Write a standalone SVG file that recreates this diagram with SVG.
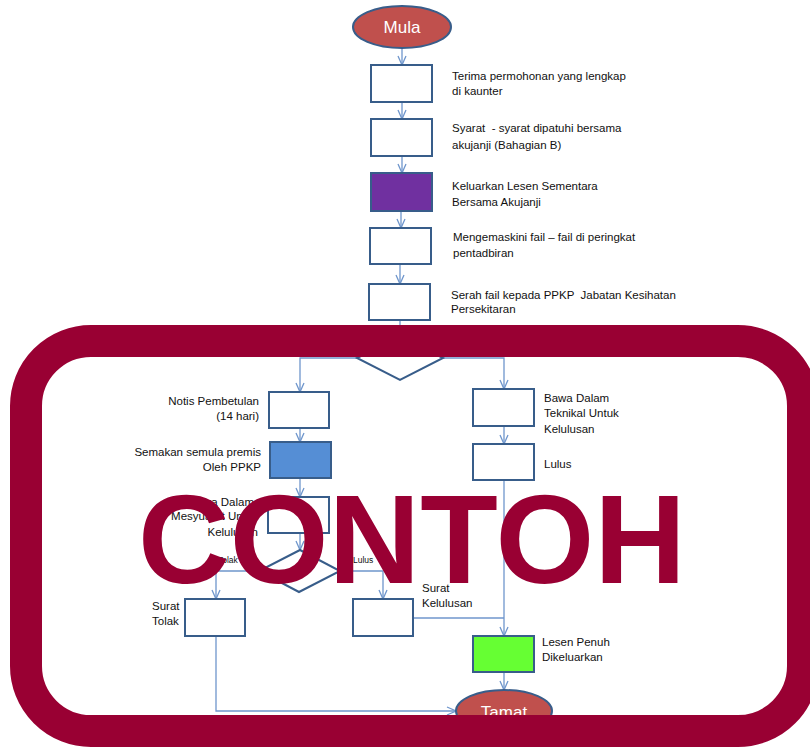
<svg xmlns="http://www.w3.org/2000/svg" width="810" height="747" viewBox="0 0 810 747">
<defs>
<style>
.box{fill:#fff;stroke:#385d8a;stroke-width:2}
.conn{fill:none;stroke:#6f96cc;stroke-width:1.3}
.dia{fill:none;stroke:#385d8a;stroke-width:2}
.t{font-family:"Liberation Sans",Arial,sans-serif;font-size:11.5px;fill:#111}
.s{font-family:"Liberation Sans",Arial,sans-serif;font-size:8.5px;fill:#111}
.term{fill:#c0504d;stroke:#385d8a;stroke-width:2}
.tt{font-family:"Liberation Sans",Arial,sans-serif;font-size:17px;fill:#fff;text-anchor:middle}
.r{text-anchor:end}
</style>
<marker id="arr" viewBox="0 0 10 10" refX="10" refY="5" markerWidth="10" markerHeight="10" markerUnits="userSpaceOnUse" orient="auto">
<path d="M1,1 L10,5 L1,9" fill="none" stroke="#6f96cc" stroke-width="1.3"/>
</marker>
</defs>
<rect width="810" height="747" fill="#fff"/>

<g id="connectors">
<path class="conn" d="M402,48 V65" marker-end="url(#arr)"/>
<path class="conn" d="M402,102 V119" marker-end="url(#arr)"/>
<path class="conn" d="M402,156 V173" marker-end="url(#arr)"/>
<path class="conn" d="M401,211 V228" marker-end="url(#arr)"/>
<path class="conn" d="M400,264 V284" marker-end="url(#arr)"/>
<path class="conn" d="M400,320 V336"/>
<path class="conn" d="M357,358 H300 V392" marker-end="url(#arr)"/>
<path class="conn" d="M443,358 H504 V389" marker-end="url(#arr)"/>
<path class="conn" d="M300,428 V442" marker-end="url(#arr)"/>
<path class="conn" d="M300,478 V497" marker-end="url(#arr)"/>
<path class="conn" d="M300,533 V550" marker-end="url(#arr)"/>
<path class="conn" d="M259,571 H216 V599" marker-end="url(#arr)"/>
<path class="conn" d="M340,571 H383 V599" marker-end="url(#arr)"/>
<path class="conn" d="M504,426 V444" marker-end="url(#arr)"/>
<path class="conn" d="M504,480 V636" marker-end="url(#arr)"/>
<path class="conn" d="M413,618 H504"/>
<path class="conn" d="M504,672 V690" marker-end="url(#arr)"/>
<path class="conn" d="M216,636 V711 H456" marker-end="url(#arr)"/>
<text class="s" x="218" y="563">Tolak</text>
<text class="s" x="353" y="563">Lulus</text>
</g>

<g id="mula">
<ellipse class="term" cx="402" cy="27" rx="49" ry="21"/>
<text class="tt" x="402" y="33">Mula</text>
</g>
<g id="terima">
<rect class="box" x="371" y="65" width="61" height="37"/>
<text class="t" x="452" y="80">Terima permohonan yang lengkap</text>
<text class="t" x="452" y="95">di kaunter</text>
</g>
<g id="syarat">
<rect class="box" x="371" y="119" width="61" height="37"/>
<text class="t" x="452" y="132">Syarat &#160;- syarat dipatuhi bersama</text>
<text class="t" x="452" y="149">akujanji (Bahagian B)</text>
</g>
<g id="keluarkan">
<rect class="box" x="371" y="173" width="61" height="38" style="fill:#7030a0"/>
<text class="t" x="452" y="190">Keluarkan Lesen Sementara</text>
<text class="t" x="452" y="206">Bersama Akujanji</text>
</g>
<g id="mengemaskini">
<rect class="box" x="370" y="228" width="61" height="36"/>
<text class="t" x="453" y="241">Mengemaskini fail – fail di peringkat</text>
<text class="t" x="453" y="257">pentadbiran</text>
</g>
<g id="serah">
<rect class="box" x="369" y="284" width="61" height="36"/>
<text class="t" x="451" y="299">Serah fail kepada PPKP &#160;Jabatan Kesihatan</text>
<text class="t" x="451" y="313">Persekitaran</text>
</g>
<g id="keputusan">
<polygon class="dia" points="400,336 443,358 400,380 357,358"/>
</g>
<g id="notis">
<rect class="box" x="269" y="392" width="60" height="36"/>
<text class="t r" x="259" y="405">Notis Pembetulan</text>
<text class="t r" x="259" y="420">(14 hari)</text>
</g>
<g id="semakan">
<rect class="box" x="270" y="442" width="61" height="36" style="fill:#558ed5"/>
<text class="t r" x="261" y="456">Semakan semula premis</text>
<text class="t r" x="261" y="471">Oleh PPKP</text>
</g>
<g id="mesyuarat">
<rect class="box" x="268" y="497" width="61" height="36"/>
<text class="t r" x="254" y="506">Bawa Dalam</text>
<text class="t r" x="258" y="520">Mesyuarat Untuk</text>
<text class="t r" x="258" y="536">Kelulusan</text>
</g>
<g id="keputusan2">
<polygon class="dia" points="300,550 340,571 299,592 259,571"/>
</g>
<g id="surat-tolak">
<rect class="box" x="185" y="599" width="60" height="37"/>
<text class="t" x="152" y="610">Surat</text>
<text class="t" x="152" y="625">Tolak</text>
</g>
<g id="surat-kelulusan">
<rect class="box" x="353" y="599" width="60" height="37"/>
<text class="t" x="422" y="592">Surat</text>
<text class="t" x="422" y="607">Kelulusan</text>
</g>
<g id="teknikal">
<rect class="box" x="473" y="389" width="61" height="37"/>
<text class="t" x="544" y="402">Bawa Dalam</text>
<text class="t" x="544" y="417">Teknikal Untuk</text>
<text class="t" x="544" y="433">Kelulusan</text>
</g>
<g id="lulus">
<rect class="box" x="473" y="444" width="61" height="36"/>
<text class="t" x="544" y="468">Lulus</text>
</g>
<g id="lesen-penuh">
<rect class="box" x="473" y="636" width="61" height="36" style="fill:#66ff33"/>
<text class="t" x="542" y="646">Lesen Penuh</text>
<text class="t" x="542" y="661">Dikeluarkan</text>
</g>
<g id="tamat">
<ellipse class="term" cx="504" cy="711" rx="48" ry="21"/>
<text class="tt" x="504" y="718">Tamat</text>
</g>

<g id="stamp">
<rect x="26" y="341" width="777" height="390" rx="65" ry="65" fill="none" stroke="#990033" stroke-width="32"/>
<text x="412" y="583" font-family="Liberation Sans,Arial,sans-serif" font-weight="bold" font-size="127" fill="#990033" text-anchor="middle">CONTOH</text>
</g>
</svg>
